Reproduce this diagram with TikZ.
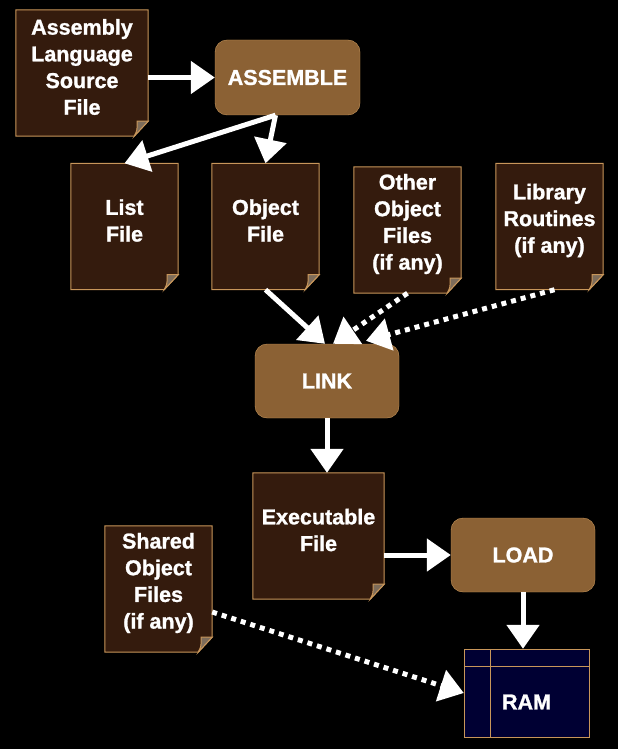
\documentclass[tikz,border=0pt]{standalone}
\usepackage{fontspec}
\setmainfont{Liberation Sans}[BoldFeatures={FakeBold=1.2}]
\usetikzlibrary{arrows.meta, backgrounds, calc}

\definecolor{paperfill}{RGB}{52,27,13}
\definecolor{edge}{RGB}{200,150,90}
\definecolor{procfill}{RGB}{139,97,52}
\definecolor{curlfill}{RGB}{125,108,90}
\definecolor{ramfill}{RGB}{0,0,51}

\begin{document}
\begin{tikzpicture}[x=1pt, y=-1pt,
    doc/.style={rectangle, minimum width=107pt, minimum height=126pt, inner sep=0pt},
    txt/.style={font=\fontsize{21.5pt}{26.7pt}\selectfont\bfseries, text=white, align=center},
    proc/.style={rectangle, rounded corners=12pt, draw=edge, fill=procfill, minimum width=145pt, minimum height=75pt, txt},
    paper/.style={fill=paperfill, draw=edge, line width=1pt},
    curl/.style={fill=curlfill, draw=edge, line width=1pt},
    ar/.style={-{Triangle[length=24pt, width=32pt]}, line width=5pt, white},
    dar/.style={ar, dash pattern=on 5pt off 5pt}]

% Files
\node[doc, minimum width=132pt, label={[txt, yshift=6pt]center:Assembly\\Language\\Source\\File}] (src) at (82,73) {};
\node[doc, label={[txt, yshift=6pt]center:List\\File}] (lst) at (124.5,226.5) {};
\node[doc, label={[txt, yshift=6pt]center:Object\\File}] (obj) at (265.5,226.5) {};
\node[doc, label={[txt, yshift=6pt]center:Other\\Object\\Files\\(if any)}] (oth) at (407.5,230) {};
\node[doc, label={[txt, yshift=6pt]center:Library\\Routines\\(if any)}] (lib) at (549.5,226.5) {};
\node[doc, minimum width=131pt, label={[txt, yshift=6pt]center:Executable\\File}] (exe) at (318.5,536) {};
\node[doc, label={[txt, yshift=6pt]center:Shared\\Object\\Files\\(if any)}] (shr) at (158.5,589) {};

% Steps
\node[proc] (asm) at (287.5,77.5) {ASSEMBLE};
\node[proc, minimum width=144pt, minimum height=74pt] (link) at (327,381) {LINK};
\node[proc, minimum width=144pt, minimum height=74pt] (load) at (523,555) {LOAD};

% Memory
\node[rectangle, draw=edge, fill=ramfill, minimum width=125pt, minimum height=88pt, label={[txt, yshift=-9pt]center:RAM}] (ram) at (526.5,693) {};
\draw[edge] ([xshift=26pt]ram.north west) -- ([xshift=26pt]ram.south west);
\draw[edge] ([yshift=-17pt]ram.north west) -- ([yshift=-17pt]ram.north east);

% Paper sheets with a turned corner
\begin{scope}[on background layer]
\fill[black] (0,0) rectangle (618,749);
\foreach \n in {src,lst,obj,oth,lib,exe,shr} {
  \filldraw[paper] (\n.north west) -- (\n.north east) -- ([yshift=15pt]\n.south east) -- ([xshift=-14pt]\n.south east) -- (\n.south west) -- cycle;
  \filldraw[curl] ([yshift=15pt]\n.south east) -- ([xshift=-11pt, yshift=15pt]\n.south east) .. controls ([xshift=-11pt, yshift=6pt]\n.south east) .. ([xshift=-14pt]\n.south east) -- cycle;
}
\end{scope}

% Arrows
\draw[ar] (src.east |- asm.west) -- (asm.west);
\draw[ar] ([xshift=-12pt]asm.south) -- (lst.north);
\draw[ar] ([xshift=-12pt]asm.south) -- (obj.north);
\draw[ar] (obj.south) -- ([xshift=-2pt]link.north);
\draw[dar] (oth.south) -- ([xshift=6pt]link.north);
\draw[dar] ([xshift=5pt]lib.south) -- ([xshift=39pt, yshift=3pt]link.north);
\draw[ar] (link.south) -- (link.south |- exe.north);
\draw[ar] (exe.east |- load.west) -- (load.west);
\draw[ar] (load.south) -- (load.south |- ram.north);
\draw[dar] ([yshift=-23pt]shr.east) -- (ram.west);

\end{tikzpicture}
\end{document}
